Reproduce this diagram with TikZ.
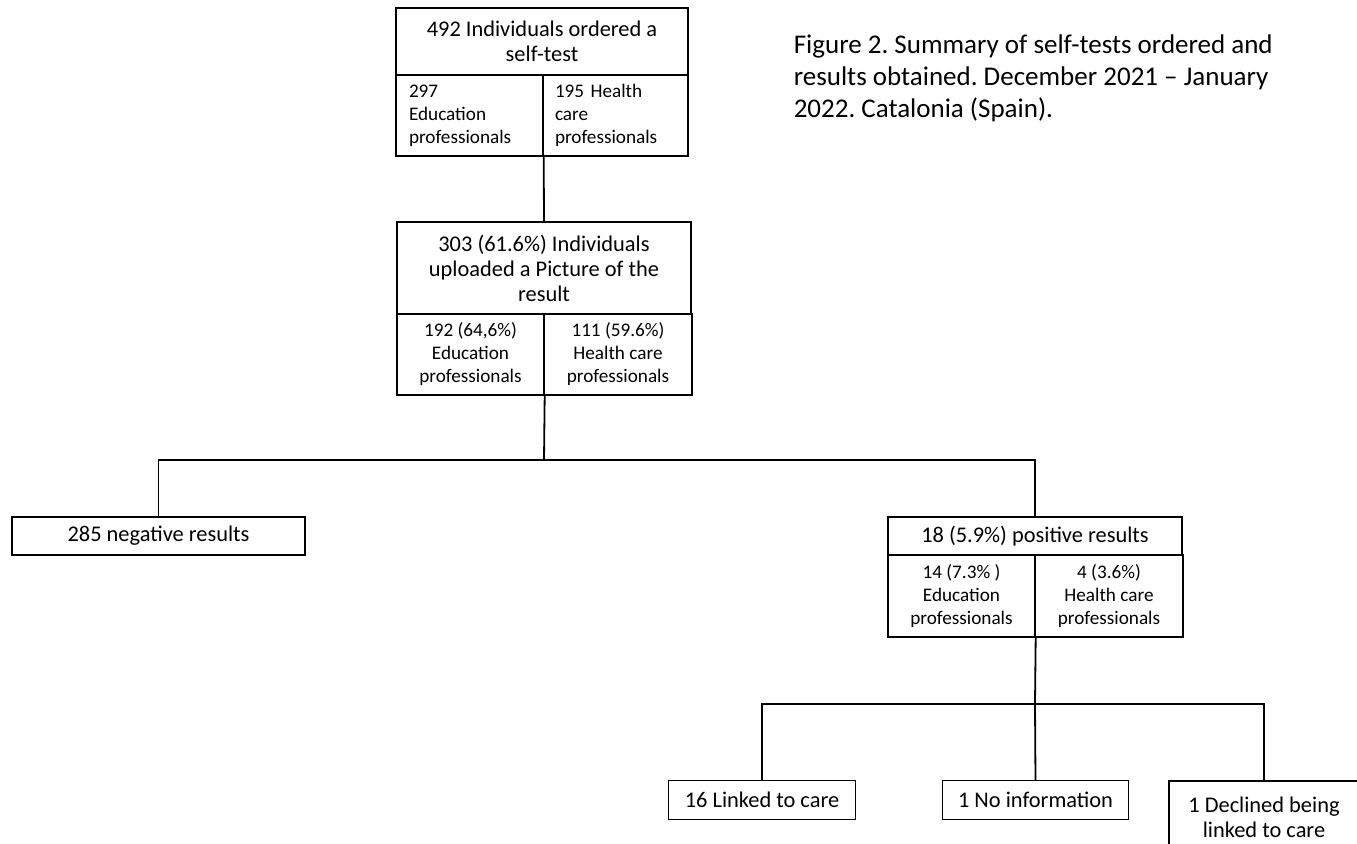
\documentclass[tikz,border=0pt]{standalone}
\usepackage{fontspec}
\setmainfont{Carlito}
\usetikzlibrary{positioning}
\frenchspacing

\begin{document}
\begin{tikzpicture}
[x=0.5pt, y=-0.5pt, draw=black, line width=0.8pt,
box/.style={rectangle, draw, line width=0.7pt, inner sep=2pt, align=center, font=\fontsize{11.2}{12.5}\selectfont},
half/.style={box, minimum height=40.5pt, font=\fontsize{9.6}{11.5}\selectfont},
link/.style={line width=0.9pt}]

\useasboundingbox (0,0) rectangle (1357,843);

\node[box, minimum width=146pt, minimum height=33.5pt] (top) at (542,41.5) {492 Individuals ordered a\\self-test};
\node[half, minimum width=73.5pt, align=left, text width=60.5pt] (topL) at (469.5,115.5) {297\\Education\\professionals};
\node[half, minimum width=72.5pt, align=left, text width=60.5pt] (topR) at (615.5,115.5) {195 Health\\care\\professionals};

\node[box, minimum width=147pt, minimum height=46pt] (mid) at (544,268) {303 (61.6\%) Individuals\\uploaded a Picture of the\\result};
\node[half, minimum width=73.5pt] (midL) at (470.5,354.5) {192 (64,6\%)\\Education\\professionals};
\node[half, minimum width=74pt] (midR) at (618,354.5) {111 (59.6\%)\\Health care\\professionals};

\node[box, minimum width=146.5pt, minimum height=19pt] (neg) at (158.5,536) {285 negative results};
\node[box, minimum width=147pt, minimum height=19pt] (pos) at (1035,536) {18 (5.9\%) positive results};
\node[half, minimum width=73.5pt, minimum height=41pt] (posL) at (961.5,596) {14 (7.3\% )\\Education\\professionals};
\node[half, minimum width=74pt, minimum height=41pt] (posR) at (1109,596) {4 (3.6\%)\\Health care\\professionals};

\node[box, minimum width=93.5pt, minimum height=19.5pt] (linked) at (762,800) {16 Linked to care};
\node[box, minimum width=93pt, minimum height=19.5pt] (noinfo) at (1035.5,800) {1 No information};
\node[box, minimum width=95pt, minimum height=36pt] (declined) at (1264,817) {1 Declined being\\linked to care};

\node[anchor=north west, align=left, inner sep=0pt, font=\fontsize{13.5}{16}\selectfont] (caption) at (793,34)
{Figure 2. Summary of self-tests ordered and\\results obtained. December 2021 -- January\\2022. Catalonia (Spain).};

\coordinate (j1) at (544,460);
\coordinate (j2) at (1035,704);

\draw[link] (topL.south east) -- (mid.north);
\draw[link] (midL.south east) -- (j1);
\draw[link] (neg.north) |- (j1) -| (pos.north);
\draw[link] (posL.south east) -- (j2);
\draw[link] (linked.north) |- (j2) -| (declined.north);
\draw[link] (j2) -- (noinfo.north);

\end{tikzpicture}
\end{document}
